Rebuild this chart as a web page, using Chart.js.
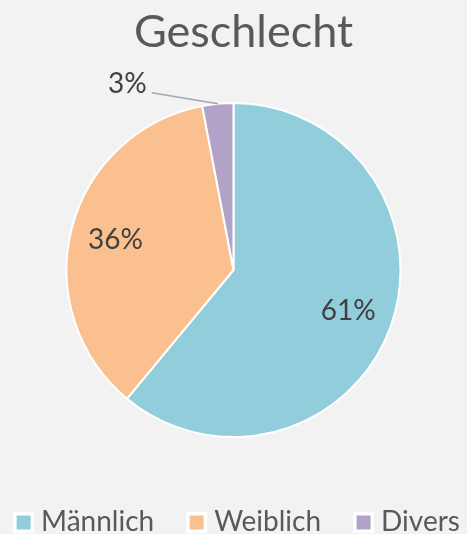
<!DOCTYPE html>
<html>
<head>
<meta charset="utf-8">
<script src="https://cdn.jsdelivr.net/npm/chart.js@4.4.0/dist/chart.umd.min.js"></script>
<style>
  html, body { margin: 0; padding: 0; background: #f2f2f2; }
  #wrap { width: 467px; height: 534px; }
</style>
</head>
<body>
<div id="wrap"><canvas id="c" width="467" height="534"></canvas></div>
<script>
const titleText = 'Geschlecht';
const categories = ['Männlich', 'Weiblich', 'Divers'];
const values = [61, 36, 3];
const labelsText = ['61%', '36%', '3%'];
const colors = ['#92CDDC', '#FAC090', '#B3A2C7'];

const labelPlugin = {
  id: 'sliceLabels',
  afterDatasetsDraw(chart) {
    const ctx = chart.ctx;
    const meta = chart.getDatasetMeta(0);
    ctx.save();
    ctx.font = '28px Lato';
    ctx.fillStyle = '#404040';
    ctx.textBaseline = 'middle';
    meta.data.forEach((arc, i) => {
      const p = arc.getProps(['x', 'y', 'startAngle', 'endAngle', 'outerRadius'], true);
      const mid = (p.startAngle + p.endAngle) / 2;
      if (values[i] >= 10) {
        const r = p.outerRadius * 0.73;
        ctx.textAlign = 'center';
        ctx.fillText(labelsText[i], p.x + Math.cos(mid) * r, p.y + Math.sin(mid) * r);
      } else {
        const ex = p.x + Math.cos(mid) * p.outerRadius;
        const ey = p.y + Math.sin(mid) * p.outerRadius;
        const lx = ex - 66, ly = ey - 11;
        ctx.strokeStyle = '#A6A6A6';
        ctx.lineWidth = 1.5;
        ctx.beginPath();
        ctx.moveTo(ex, ey);
        ctx.lineTo(lx, ly);
        ctx.stroke();
        ctx.textAlign = 'right';
        ctx.fillText(labelsText[i], lx - 5, ly - 9);
      }
    });
    ctx.restore();
  }
};

const legendPlugin = {
  id: 'customLegend',
  afterDraw(chart) {
    const ctx = chart.ctx;
    const items = chart.options.plugins.legend.labels.generateLabels(chart);
    ctx.save();
    ctx.font = '28px Lato';
    const boxOuter = 21, boxInner = 14, textOff = 28, gap = 32;
    const widths = items.map(it => ctx.measureText(it.text).width);
    let total = 0;
    widths.forEach((w, i) => { total += textOff + w + (i < widths.length - 1 ? gap : 0); });
    let x = 236.5 - total / 2;
    const cy = 522.5;
    const baseline = 531;
    items.forEach((it, i) => {
      ctx.fillStyle = '#ffffff';
      ctx.fillRect(x, cy - boxOuter / 2, boxOuter, boxOuter);
      ctx.fillStyle = it.fillStyle;
      ctx.fillRect(x + (boxOuter - boxInner) / 2, cy - boxInner / 2, boxInner, boxInner);
      ctx.fillStyle = '#595959';
      ctx.textAlign = 'left';
      ctx.textBaseline = 'alphabetic';
      ctx.fillText(it.text, x + textOff, baseline);
      x += textOff + widths[i] + gap;
    });
    ctx.restore();
  }
};

const titleShift = {
  id: 'titleShift',
  afterLayout(chart) {
    if (chart.titleBlock) {
      chart.titleBlock.left += 10;
      chart.titleBlock.right += 10;
    }
  }
};

const bgPlugin = {
  id: 'bg',
  beforeDraw(chart) {
    const ctx = chart.ctx;
    ctx.save();
    ctx.fillStyle = '#f2f2f2';
    ctx.fillRect(0, 0, chart.width, chart.height);
    ctx.restore();
  }
};

new Chart(document.getElementById('c'), {
  type: 'pie',
  data: {
    labels: categories,
    datasets: [{
      data: values,
      backgroundColor: colors,
      borderColor: '#ffffff',
      borderWidth: 2,
      radius: 167
    }]
  },
  options: {
    responsive: false,
    animation: false,
    layout: { padding: { top: 0, bottom: 97, left: 0, right: 0 } },
    plugins: {
      tooltip: { enabled: false },
      title: {
        display: true,
        text: titleText,
        color: '#595959',
        font: { family: 'Lato', size: 45, weight: 'normal', lineHeight: 1.2 },
        padding: { top: 5, bottom: 44 }
      },
      legend: { display: false }
    }
  },
  plugins: [bgPlugin, titleShift, labelPlugin, legendPlugin]
});
</script>
</body>
</html>
